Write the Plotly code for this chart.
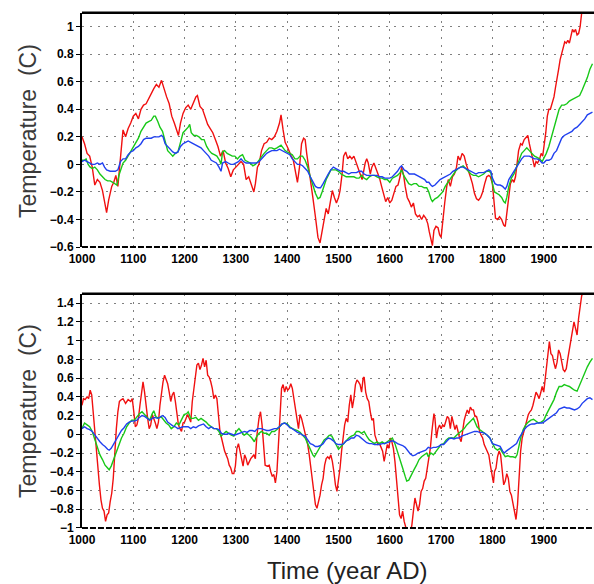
import plotly.graph_objects as go

# ---------------- top panel ----------------
top_red_year = [1000,1005,1010,1015,1020,1025,1030,1035,1040,1045,1048,1052,1058,1062,1066,1070,1073,1077,1080,1085,
 1090,1095,1100,1105,1110,1115,1120,1125,1130,1135,1140,1145,1150,1155,1160,1165,1170,1175,1180,1185,
 1188,1192,1197,1202,1207,1212,1217,1222,1225,1230,1235,1240,1245,1250,1255,1260,1265,1270,1275,1280,
 1285,1290,1295,1300,1305,1310,1315,1320,1325,1330,1335,1338,1342,1345,1350,1355,1360,1365,1370,1375,
 1380,1385,1388,1392,1396,1400,1404,1408,1412,1417,1420,1424,1428,1432,1435,1438,1442,1446,1450,1455,
 1460,1464,1468,1472,1476,1480,1484,1488,1492,1496,1500,1503,1507,1510,1514,1518,1522,1526,1530,1534,
 1538,1542,1546,1548,1552,1555,1558,1562,1565,1569,1572,1576,1580,1584,1588,1592,1596,1600,1604,1608,
 1612,1616,1620,1623,1627,1630,1634,1638,1642,1646,1650,1654,1658,1662,1666,1670,1674,1677,1680,1683,
 1686,1690,1694,1697,1700,1703,1707,1711,1714,1718,1722,1726,1730,1733,1737,1741,1745,1749,1753,1757,
 1761,1765,1769,1773,1777,1781,1785,1789,1793,1796,1800,1803,1806,1810,1814,1818,1822,1825,1828,1831,
 1835,1839,1842,1845,1848,1851,1855,1858,1862,1866,1869,1872,1876,1879,1882,1885,1888,1892,1895,1898,
 1901,1904,1907,1910,1913,1916,1920,1923,1926,1929,1932,1935,1938,1941,1944,1947,1950,1953,1956,1959,
 1962,1965,1968,1971,1974,1980,1987,1995]
top_red_val = [0.20,0.15,0.08,0.06,-0.02,-0.15,-0.11,-0.13,-0.19,-0.28,-0.35,-0.26,-0.16,-0.13,-0.08,-0.16,-0.04,0.10,0.25,0.20,
 0.26,0.30,0.35,0.37,0.33,0.40,0.43,0.44,0.48,0.52,0.55,0.58,0.56,0.61,0.54,0.49,0.44,0.35,0.30,0.25,
 0.21,0.30,0.37,0.41,0.43,0.40,0.44,0.49,0.50,0.42,0.40,0.35,0.29,0.26,0.23,0.18,0.13,0.06,0.10,0.01,
 -0.03,-0.09,-0.04,-0.02,0.00,0.02,0.00,-0.11,-0.09,-0.14,-0.20,-0.14,-0.02,0.00,0.10,0.15,0.16,0.19,0.18,0.20,
 0.24,0.30,0.36,0.25,0.16,0.13,0.09,0.06,0.03,-0.07,-0.13,-0.02,0.15,0.19,0.18,0.08,-0.02,-0.11,-0.24,-0.38,
 -0.53,-0.57,-0.48,-0.38,-0.32,-0.36,-0.28,-0.19,-0.24,-0.28,-0.24,-0.19,-0.07,0.06,0.09,0.04,0.06,0.04,0.06,0.02,
 -0.02,-0.07,-0.11,-0.07,0.01,0.04,0.01,-0.07,-0.02,0.01,-0.02,-0.05,-0.10,-0.16,-0.21,-0.27,-0.24,-0.28,-0.26,-0.20,
 -0.16,-0.15,-0.09,-0.02,-0.08,-0.16,-0.24,-0.27,-0.31,-0.28,-0.36,-0.38,-0.37,-0.40,-0.37,-0.39,-0.43,-0.49,-0.55,-0.59,
 -0.48,-0.45,-0.46,-0.51,-0.53,-0.40,-0.28,-0.16,-0.11,-0.16,-0.09,-0.07,-0.02,0.06,0.03,0.08,0.06,0.00,-0.04,-0.09,
 -0.14,-0.21,-0.25,-0.26,-0.24,-0.20,-0.14,-0.09,-0.08,-0.09,-0.14,-0.28,-0.39,-0.40,-0.38,-0.40,-0.44,-0.45,-0.36,-0.26,
 -0.14,-0.11,-0.13,-0.09,0.03,0.10,0.15,0.14,0.18,0.20,0.21,0.15,0.08,0.03,-0.02,0.02,0.01,0.04,0.08,0.06,
 0.13,0.23,0.35,0.40,0.40,0.44,0.49,0.56,0.64,0.69,0.76,0.81,0.86,0.89,0.88,0.90,0.88,0.93,0.98,0.96,
 0.98,0.94,0.95,1.00,1.10,1.18,1.25,1.30]

top_green_year = [1000,1005,1008,1012,1016,1020,1025,1030,1035,1040,1045,1050,1055,1060,1065,1068,1072,1076,1080,1085,
 1090,1095,1100,1105,1110,1115,1120,1125,1130,1135,1140,1143,1148,1152,1157,1162,1167,1172,1177,1182,
 1187,1192,1197,1202,1207,1210,1213,1218,1223,1228,1233,1238,1243,1248,1253,1258,1263,1268,1271,1274,
 1278,1283,1288,1293,1298,1303,1308,1313,1318,1323,1328,1333,1338,1343,1350,1355,1360,1365,1370,1375,
 1380,1385,1388,1392,1396,1400,1405,1410,1415,1420,1425,1430,1435,1440,1445,1450,1455,1460,1464,1468,
 1472,1476,1480,1485,1490,1495,1500,1505,1510,1515,1520,1525,1530,1535,1540,1545,1550,1555,1560,1565,
 1570,1575,1580,1585,1590,1595,1600,1605,1610,1615,1620,1623,1627,1632,1637,1642,1647,1652,1657,1662,
 1667,1672,1676,1680,1683,1688,1693,1698,1703,1708,1713,1718,1723,1728,1733,1738,1743,1748,1753,1758,
 1763,1768,1773,1778,1783,1788,1793,1797,1800,1804,1808,1813,1818,1822,1825,1828,1832,1837,1842,1847,
 1852,1857,1862,1867,1872,1877,1882,1887,1892,1897,1900,1905,1910,1915,1920,1925,1930,1935,1940,1945,
 1950,1955,1960,1965,1970,1975,1980,1985,1990,1995]
top_green_val = [0.03,0.03,0.04,0.00,-0.02,-0.03,-0.02,-0.04,-0.07,-0.09,-0.11,-0.12,-0.12,-0.13,-0.14,-0.15,-0.08,-0.03,0.01,0.03,
 0.06,0.09,0.13,0.16,0.19,0.24,0.27,0.30,0.31,0.32,0.35,0.35,0.31,0.27,0.24,0.16,0.10,0.08,0.06,0.08,
 0.09,0.16,0.23,0.25,0.27,0.29,0.23,0.21,0.21,0.20,0.18,0.18,0.13,0.10,0.08,0.07,0.06,0.03,0.00,0.09,
 0.10,0.08,0.07,0.06,0.06,0.04,0.06,0.07,0.03,0.02,0.01,-0.01,0.00,0.02,0.06,0.08,0.10,0.12,0.12,0.11,
 0.12,0.13,0.14,0.12,0.10,0.09,0.08,0.07,0.04,0.04,0.06,0.06,0.03,-0.02,-0.09,-0.16,-0.21,-0.25,-0.24,-0.20,
 -0.15,-0.11,-0.08,-0.04,-0.04,-0.04,-0.05,-0.07,-0.08,-0.09,-0.09,-0.09,-0.09,-0.10,-0.10,-0.08,-0.10,-0.11,-0.09,-0.08,
 -0.08,-0.09,-0.10,-0.10,-0.11,-0.11,-0.13,-0.10,-0.09,-0.08,-0.06,-0.04,-0.08,-0.11,-0.14,-0.15,-0.14,-0.14,-0.16,-0.16,
 -0.17,-0.17,-0.20,-0.25,-0.27,-0.25,-0.24,-0.22,-0.20,-0.16,-0.13,-0.10,-0.08,-0.05,-0.03,-0.02,-0.01,-0.03,-0.05,-0.07,
 -0.08,-0.08,-0.09,-0.08,-0.07,-0.05,-0.05,-0.06,-0.14,-0.20,-0.21,-0.22,-0.24,-0.27,-0.28,-0.24,-0.16,-0.10,-0.07,-0.02,
 0.04,0.08,0.10,0.12,0.10,0.08,0.06,0.05,0.04,0.02,0.04,0.08,0.13,0.20,0.27,0.35,0.40,0.43,0.43,0.44,
 0.46,0.47,0.48,0.49,0.50,0.54,0.58,0.63,0.69,0.73]

top_blue_year = [1000,1005,1010,1015,1020,1025,1030,1035,1040,1044,1048,1055,1060,1065,1070,1075,1080,1085,1090,1095,
 1100,1105,1110,1115,1120,1125,1130,1135,1140,1145,1150,1155,1158,1162,1167,1172,1177,1182,1187,1192,
 1197,1202,1207,1212,1217,1222,1227,1232,1237,1242,1247,1252,1257,1262,1267,1271,1274,1280,1285,1290,
 1295,1300,1305,1310,1315,1320,1325,1330,1335,1340,1345,1350,1355,1360,1365,1370,1375,1380,1385,1390,
 1395,1400,1405,1410,1415,1420,1425,1430,1435,1440,1445,1450,1455,1460,1465,1470,1475,1480,1485,1490,
 1495,1500,1505,1510,1515,1520,1525,1530,1535,1540,1545,1550,1555,1560,1565,1570,1575,1580,1585,1590,
 1595,1600,1605,1610,1615,1620,1623,1628,1633,1638,1643,1648,1653,1658,1663,1668,1672,1676,1680,1683,
 1688,1693,1698,1703,1708,1713,1718,1723,1728,1733,1738,1743,1748,1753,1758,1763,1768,1773,1778,1783,
 1788,1793,1797,1800,1805,1810,1815,1820,1825,1828,1832,1837,1842,1847,1852,1857,1862,1867,1872,1877,
 1882,1887,1892,1897,1900,1905,1910,1915,1920,1925,1930,1935,1940,1945,1950,1955,1960,1965,1970,1975,
 1980,1985,1990,1995]
top_blue_val = [0.02,0.03,0.02,0.01,0.00,0.00,0.01,0.00,0.01,-0.02,-0.04,-0.05,-0.05,-0.05,-0.04,0.02,0.04,0.04,0.07,0.09,
 0.10,0.12,0.13,0.15,0.18,0.19,0.19,0.19,0.20,0.20,0.20,0.21,0.20,0.15,0.13,0.11,0.09,0.08,0.09,0.13,
 0.15,0.16,0.17,0.16,0.15,0.14,0.13,0.12,0.10,0.08,0.06,0.03,0.02,0.01,-0.02,-0.05,0.01,0.02,0.01,0.00,
 0.00,0.01,0.02,0.04,0.02,0.01,0.01,0.01,0.01,0.01,0.02,0.04,0.06,0.08,0.09,0.10,0.10,0.10,0.11,0.10,
 0.09,0.08,0.07,0.04,0.02,0.00,0.00,-0.01,-0.03,-0.05,-0.09,-0.13,-0.16,-0.17,-0.17,-0.14,-0.10,-0.07,-0.04,-0.02,
 -0.03,-0.04,-0.05,-0.05,-0.06,-0.07,-0.06,-0.06,-0.06,-0.05,-0.05,-0.07,-0.08,-0.08,-0.08,-0.08,-0.08,-0.09,-0.09,-0.10,
 -0.10,-0.10,-0.09,-0.07,-0.05,-0.02,-0.01,-0.04,-0.05,-0.07,-0.07,-0.07,-0.08,-0.09,-0.10,-0.11,-0.13,-0.13,-0.15,-0.16,
 -0.15,-0.13,-0.11,-0.10,-0.09,-0.08,-0.07,-0.05,-0.04,-0.03,-0.02,-0.02,-0.03,-0.04,-0.05,-0.06,-0.07,-0.06,-0.06,-0.06,
 -0.05,-0.04,-0.05,-0.10,-0.14,-0.15,-0.15,-0.16,-0.18,-0.16,-0.11,-0.08,-0.04,-0.01,0.02,0.04,0.06,0.06,0.06,0.05,
 0.04,0.04,0.03,0.01,0.01,0.03,0.03,0.04,0.08,0.10,0.15,0.19,0.21,0.22,0.23,0.24,0.26,0.27,0.29,0.31,
 0.33,0.36,0.37,0.38]

# ---------------- bottom panel ----------------
bot_red_year = [1000,1003,1006,1010,1013,1016,1019,1022,1025,1028,1031,1034,1037,1040,1043,1046,1049,1052,1055,1058,
 1061,1064,1067,1070,1073,1077,1080,1085,1090,1095,1098,1101,1104,1107,1110,1113,1116,1119,1122,1125,
 1128,1131,1134,1137,1140,1143,1146,1149,1152,1155,1158,1161,1164,1167,1170,1173,1176,1179,1182,1185,
 1188,1191,1194,1197,1200,1203,1206,1209,1212,1215,1218,1221,1224,1227,1230,1233,1236,1239,1242,1245,
 1248,1251,1254,1257,1260,1263,1266,1269,1272,1275,1278,1281,1284,1287,1290,1293,1296,1299,1302,1305,
 1308,1311,1314,1317,1320,1323,1326,1329,1332,1335,1338,1341,1345,1348,1351,1354,1357,1361,1365,1368,
 1371,1374,1377,1380,1383,1386,1389,1392,1395,1398,1401,1404,1407,1410,1413,1416,1419,1422,1425,1428,
 1431,1434,1437,1440,1443,1446,1449,1452,1455,1458,1461,1464,1467,1470,1473,1476,1479,1482,1485,1488,
 1491,1494,1497,1500,1503,1506,1509,1512,1515,1518,1521,1524,1527,1530,1533,1536,1539,1542,1545,1548,
 1550,1553,1556,1559,1562,1565,1568,1571,1574,1577,1580,1583,1586,1589,1592,1595,1598,1601,1604,1607,
 1610,1613,1616,1619,1622,1625,1628,1631,1634,1637,1640,1643,1646,1649,1652,1655,1658,1661,1664,1667,
 1670,1673,1676,1679,1682,1684,1686,1688,1691,1694,1697,1700,1703,1706,1709,1712,1715,1718,1721,1724,
 1727,1730,1733,1736,1739,1742,1745,1748,1751,1754,1757,1760,1763,1766,1769,1772,1775,1778,1781,1784,
 1787,1790,1793,1796,1799,1802,1804,1807,1810,1813,1816,1819,1822,1825,1828,1831,1834,1837,1840,1843,
 1846,1849,1852,1855,1858,1861,1864,1867,1870,1873,1876,1879,1882,1885,1888,1891,1894,1897,1900,1903,
 1906,1909,1911,1914,1917,1920,1923,1926,1929,1932,1935,1938,1941,1944,1947,1950,1953,1956,1959,1962,
 1965,1968,1971,1974,1980,1987,1995]
bot_red_val = [0.31,0.38,0.37,0.40,0.38,0.47,0.42,0.21,0.03,-0.11,-0.36,-0.54,-0.70,-0.79,-0.82,-0.93,-0.86,-0.84,-0.72,-0.63,
 -0.47,-0.18,0.06,0.24,0.35,0.37,0.38,0.33,0.37,0.35,0.38,0.24,0.08,0.10,0.17,0.31,0.45,0.56,0.45,0.28,
 0.17,0.06,0.10,0.21,0.17,0.12,0.06,0.13,0.31,0.45,0.56,0.63,0.58,0.54,0.45,0.35,0.42,0.45,0.35,0.21,
 0.10,0.06,0.03,0.12,0.13,0.17,0.21,0.17,0.13,0.35,0.49,0.60,0.74,0.76,0.69,0.74,0.81,0.72,0.79,0.63,
 0.61,0.56,0.49,0.38,0.42,0.38,0.17,0.03,-0.04,-0.13,-0.18,-0.22,-0.26,-0.33,-0.36,-0.42,-0.42,-0.34,-0.15,-0.10,
 -0.18,-0.26,-0.34,-0.22,-0.26,-0.33,-0.29,-0.26,-0.24,-0.22,-0.26,-0.01,0.17,0.24,0.10,-0.15,-0.33,-0.34,-0.33,-0.40,
 -0.45,-0.43,-0.52,-0.40,-0.08,0.24,0.49,0.53,0.45,0.51,0.47,0.49,0.54,0.49,0.38,0.31,0.17,0.06,0.21,0.17,
 0.10,0.03,-0.04,-0.11,-0.22,-0.36,-0.50,-0.61,-0.75,-0.79,-0.72,-0.65,-0.54,-0.47,-0.33,-0.26,-0.24,-0.26,-0.22,-0.29,
 -0.40,-0.54,-0.61,-0.50,-0.36,-0.18,-0.04,0.10,0.17,0.13,0.31,0.42,0.28,0.38,0.53,0.58,0.56,0.53,0.45,0.60,
 0.61,0.45,0.38,0.35,0.24,0.15,0.17,-0.01,-0.06,-0.11,-0.10,-0.15,-0.18,-0.29,-0.18,-0.11,-0.15,-0.04,-0.08,-0.15,
 -0.29,-0.47,-0.68,-0.86,-0.90,-0.82,-0.93,-1.00,-1.07,-1.11,-1.05,-0.97,-0.82,-0.68,-0.75,-0.82,-0.75,-0.61,-0.58,-0.50,
 -0.47,-0.36,-0.22,-0.15,0.03,0.10,0.22,0.17,-0.04,0.06,0.10,0.06,0.10,0.08,0.13,0.19,0.17,0.06,0.19,0.13,
 0.05,0.10,0.01,-0.04,-0.08,0.06,0.15,0.21,0.26,0.22,0.29,0.26,0.26,0.19,0.19,0.13,0.03,-0.01,-0.04,-0.11,
 -0.15,-0.18,-0.22,-0.33,-0.43,-0.52,-0.40,-0.36,-0.24,-0.18,-0.22,-0.43,-0.54,-0.50,-0.42,-0.47,-0.61,-0.65,-0.74,-0.84,
 -0.91,-0.75,-0.47,-0.18,-0.04,0.03,0.10,0.17,0.21,0.24,0.26,0.31,0.38,0.45,0.42,0.38,0.44,0.51,0.45,0.60,
 0.81,0.95,0.99,0.86,0.84,0.76,0.70,0.77,0.90,0.86,0.79,0.69,0.67,0.70,0.81,0.92,1.02,1.09,1.20,1.13,
 1.06,1.24,1.38,1.48,1.56,1.62,1.70]

bot_green_year = [1000,1005,1010,1015,1020,1025,1030,1035,1040,1045,1050,1053,1057,1062,1067,1072,1077,1082,1087,1092,
 1097,1102,1107,1112,1117,1122,1127,1132,1137,1140,1144,1149,1154,1159,1164,1169,1174,1179,1184,1189,
 1194,1199,1204,1207,1212,1217,1222,1227,1232,1237,1242,1247,1252,1257,1262,1267,1271,1276,1281,1286,
 1291,1296,1301,1306,1311,1316,1321,1326,1331,1336,1340,1345,1350,1355,1360,1365,1370,1375,1380,1385,
 1390,1395,1400,1405,1410,1415,1420,1425,1430,1435,1440,1445,1450,1453,1457,1462,1467,1472,1477,1482,
 1487,1492,1497,1500,1505,1510,1515,1520,1525,1530,1535,1540,1545,1550,1555,1560,1565,1570,1575,1580,
 1585,1590,1595,1600,1605,1610,1615,1620,1625,1630,1633,1637,1642,1647,1652,1657,1662,1667,1672,1675,
 1680,1685,1690,1695,1700,1705,1710,1715,1720,1725,1730,1735,1740,1745,1750,1755,1760,1763,1766,1770,
 1775,1780,1785,1790,1795,1800,1805,1810,1815,1820,1825,1830,1835,1840,1845,1848,1852,1856,1860,1865,
 1870,1875,1880,1885,1890,1895,1900,1905,1910,1915,1920,1925,1930,1935,1940,1945,1950,1955,1960,1965,
 1970,1975,1980,1985,1990,1995]
bot_green_val = [0.06,0.12,0.10,0.08,0.03,-0.06,-0.15,-0.22,-0.27,-0.33,-0.36,-0.38,-0.34,-0.26,-0.18,-0.11,-0.04,0.01,0.08,0.12,
 0.15,0.15,0.19,0.22,0.24,0.21,0.17,0.15,0.22,0.25,0.19,0.17,0.19,0.15,0.12,0.10,0.06,0.08,0.12,0.10,
 0.15,0.21,0.22,0.24,0.17,0.17,0.18,0.15,0.17,0.15,0.13,0.10,0.08,0.06,0.06,0.03,-0.02,0.01,0.03,0.01,
 -0.01,-0.02,0.03,0.06,0.03,-0.01,0.01,-0.01,-0.04,-0.08,-0.03,0.01,0.03,0.01,0.01,-0.01,0.03,0.03,0.05,0.08,
 0.11,0.12,0.11,0.08,0.06,0.05,0.04,0.02,-0.01,-0.04,-0.10,-0.17,-0.22,-0.24,-0.20,-0.15,-0.11,-0.06,-0.04,-0.01,
 -0.02,-0.08,-0.14,-0.16,-0.13,-0.10,-0.06,-0.04,-0.02,-0.01,0.03,0.03,0.01,0.03,-0.02,-0.06,-0.08,-0.10,-0.08,-0.10,
 -0.08,-0.10,-0.08,-0.06,-0.04,-0.10,-0.18,-0.27,-0.36,-0.45,-0.50,-0.49,-0.43,-0.38,-0.33,-0.27,-0.24,-0.22,-0.20,-0.24,
 -0.20,-0.22,-0.18,-0.15,-0.11,-0.10,-0.06,-0.04,-0.04,-0.04,-0.01,0.01,0.03,0.06,0.10,0.13,0.16,0.17,0.13,0.08,
 0.05,0.03,0.01,-0.01,-0.04,-0.10,-0.15,-0.17,-0.15,-0.20,-0.24,-0.23,-0.24,-0.24,-0.25,-0.22,-0.11,-0.02,0.05,0.10,
 0.13,0.15,0.16,0.14,0.12,0.13,0.15,0.21,0.26,0.31,0.37,0.45,0.51,0.51,0.53,0.52,0.51,0.49,0.47,0.46,
 0.53,0.58,0.67,0.72,0.77,0.81]

bot_blue_year = [1000,1005,1010,1015,1020,1025,1030,1035,1040,1045,1050,1053,1057,1062,1067,1072,1077,1082,1087,1092,
 1097,1102,1107,1112,1117,1122,1127,1132,1137,1142,1147,1152,1157,1162,1167,1172,1177,1182,1187,1192,
 1197,1202,1207,1212,1217,1222,1227,1232,1237,1242,1247,1252,1257,1262,1267,1272,1277,1282,1287,1292,
 1297,1302,1307,1312,1317,1322,1327,1332,1337,1342,1345,1350,1355,1360,1365,1370,1375,1380,1385,1390,
 1395,1400,1405,1410,1415,1420,1425,1430,1435,1440,1445,1450,1455,1460,1465,1470,1475,1480,1485,1490,
 1495,1500,1505,1510,1515,1520,1525,1530,1535,1540,1545,1550,1555,1560,1565,1570,1575,1580,1585,1590,
 1595,1600,1605,1610,1615,1620,1625,1630,1635,1640,1645,1650,1655,1660,1665,1670,1675,1680,1685,1690,
 1695,1700,1705,1710,1715,1720,1725,1730,1735,1740,1745,1750,1755,1760,1765,1770,1775,1780,1785,1790,
 1795,1800,1805,1810,1815,1820,1823,1827,1832,1837,1842,1847,1852,1857,1862,1867,1872,1877,1882,1887,
 1892,1897,1900,1905,1910,1915,1920,1925,1930,1935,1940,1945,1950,1955,1960,1965,1970,1975,1980,1985,
 1990,1995]
bot_blue_val = [0.06,0.08,0.06,0.05,0.03,-0.01,-0.04,-0.08,-0.11,-0.13,-0.16,-0.17,-0.15,-0.10,-0.06,-0.01,0.04,0.07,0.11,0.13,
 0.14,0.14,0.15,0.18,0.20,0.19,0.17,0.15,0.17,0.18,0.17,0.18,0.20,0.18,0.13,0.11,0.09,0.08,0.06,0.07,
 0.08,0.08,0.08,0.06,0.08,0.07,0.09,0.10,0.11,0.08,0.06,0.08,0.06,0.06,0.05,0.01,0.00,0.00,0.01,0.00,
 -0.01,0.00,0.01,0.02,0.03,0.02,0.04,0.04,0.03,0.06,0.06,0.06,0.05,0.04,0.04,0.05,0.06,0.06,0.08,0.11,
 0.12,0.10,0.07,0.06,0.04,0.02,0.01,-0.01,-0.02,-0.06,-0.10,-0.11,-0.13,-0.13,-0.12,-0.10,-0.06,-0.04,-0.05,-0.07,
 -0.10,-0.11,-0.11,-0.10,-0.07,-0.06,-0.04,-0.04,-0.01,-0.02,-0.04,-0.07,-0.09,-0.10,-0.10,-0.11,-0.11,-0.11,-0.10,-0.10,
 -0.09,-0.08,-0.07,-0.08,-0.10,-0.11,-0.12,-0.14,-0.18,-0.21,-0.23,-0.22,-0.20,-0.19,-0.18,-0.17,-0.14,-0.15,-0.14,-0.14,
 -0.13,-0.11,-0.11,-0.08,-0.05,-0.04,-0.05,-0.04,-0.04,-0.02,-0.01,0.00,0.01,0.02,0.03,0.03,0.02,0.02,0.01,-0.01,
 -0.04,-0.10,-0.11,-0.12,-0.13,-0.18,-0.20,-0.18,-0.16,-0.14,-0.12,-0.10,-0.04,0.01,0.05,0.08,0.10,0.11,0.11,0.12,
 0.12,0.12,0.13,0.15,0.17,0.19,0.21,0.23,0.27,0.28,0.29,0.28,0.28,0.27,0.26,0.27,0.29,0.33,0.35,0.38,
 0.39,0.37]

x_tick_vals = [1000, 1100, 1200, 1300, 1400, 1500, 1600, 1700, 1800, 1900]
top_y_ticks = [-0.6, -0.4, -0.2, 0, 0.2, 0.4, 0.6, 0.8, 1]
bot_y_ticks = [-1, -0.8, -0.6, -0.4, -0.2, 0, 0.2, 0.4, 0.6, 0.8, 1, 1.2, 1.4]

RED, GREEN, BLUE = "#f01010", "#18c818", "#2040f0"

fig = go.Figure()
for xa, ya, series in [
    ("x", "y", [(top_red_year, top_red_val, RED), (top_green_year, top_green_val, GREEN), (top_blue_year, top_blue_val, BLUE)]),
    ("x2", "y2", [(bot_red_year, bot_red_val, RED), (bot_green_year, bot_green_val, GREEN), (bot_blue_year, bot_blue_val, BLUE)]),
]:
    for xs, ys, c in series:
        fig.add_trace(go.Scatter(x=xs, y=ys, mode="lines", xaxis=xa, yaxis=ya,
                                 line=dict(color=c, width=1.4), showlegend=False, hoverinfo="skip"))

tickfont = dict(family="Liberation Sans, Arial, sans-serif", size=12, color="black", weight="bold")
xcommon = dict(range=[1000, 1998], tickvals=x_tick_vals, showgrid=True, gridcolor="#808080",
               griddash="2px,6px", gridwidth=1.3, showline=False, ticks="", zeroline=False,
               tickfont=tickfont, automargin=False, ticklabelstandoff=3)
ycommon = dict(showgrid=True, gridcolor="#808080", griddash="2px,6px", gridwidth=1.3, showline=True,
               linecolor="black", linewidth=2, ticks="outside", ticklen=4, tickcolor="black",
               zeroline=False, tickfont=tickfont, automargin=False)

fig.update_layout(
    width=594, height=584, margin=dict(l=0, r=0, t=0, b=0, pad=0, autoexpand=False),
    paper_bgcolor="white", plot_bgcolor="white",
    xaxis=dict(domain=[0.138, 1.0], anchor="y", **xcommon),
    yaxis=dict(domain=[0.577, 0.978], anchor="x", range=[-0.6, 1.1], tickvals=top_y_ticks, **ycommon),
    xaxis2=dict(domain=[0.138, 1.0], anchor="y2", **xcommon),
    yaxis2=dict(domain=[0.096, 0.497], anchor="x2", range=[-1, 1.5], tickvals=bot_y_ticks, **ycommon),
)

for xr, yr in [("x", "y"), ("x2", "y2")]:
    fig.add_shape(type="line", xref=f"{xr} domain", yref=f"{yr} domain", x0=0, x1=1, y0=1, y1=1,
                  line=dict(color="black", width=2.5))
    fig.add_shape(type="line", xref=f"{xr} domain", yref=f"{yr} domain", x0=0, x1=1, y0=0, y1=0,
                  line=dict(color="black", width=2, dash="6px,2px"))

title_font = dict(family="Liberation Sans, Arial, sans-serif", size=23, color="#3a3a3a")
fig.add_annotation(text="Temperature\u00a0\u00a0(C)", xref="paper", yref="paper", x=28 / 594, y=1 - 131 / 584,
                   textangle=-90, showarrow=False, font=title_font, xanchor="center", yanchor="middle")
fig.add_annotation(text="Temperature\u00a0\u00a0(C)", xref="paper", yref="paper", x=28 / 594, y=1 - 411 / 584,
                   textangle=-90, showarrow=False, font=title_font, xanchor="center", yanchor="middle")
fig.add_annotation(text="Time (year AD)", xref="paper", yref="paper", x=347 / 594, y=1 - 570 / 584,
                   showarrow=False, font=dict(family="Liberation Sans, Arial, sans-serif", size=24, color="#222222"),
                   xanchor="center", yanchor="middle")

fig.write_html("out.html", config={"displayModeBar": False},
               post_script="document.body.style.margin='0';document.body.style.overflow='hidden';")
